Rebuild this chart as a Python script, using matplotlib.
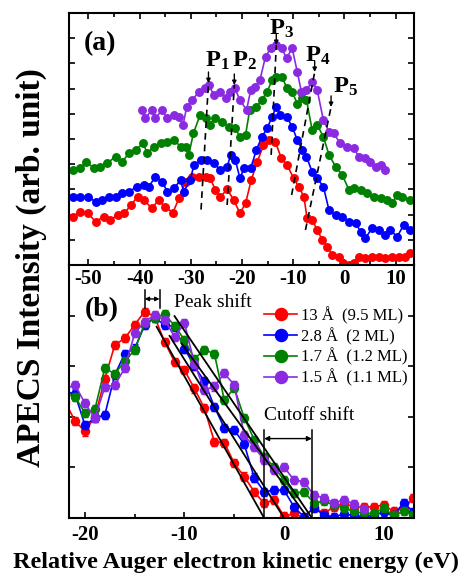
import numpy as np
import matplotlib
matplotlib.use('Agg')
import matplotlib.pyplot as plt
from matplotlib.ticker import MultipleLocator, FixedLocator, NullFormatter
from matplotlib.lines import Line2D

plt.rcParams['font.family'] = ['Liberation Serif', 'DejaVu Serif']
plt.rcParams['mathtext.fontset'] = 'custom'
plt.rcParams['mathtext.rm'] = 'Liberation Serif'
plt.rcParams['mathtext.bf'] = 'Liberation Serif:bold'
plt.rcParams['mathtext.it'] = 'Liberation Serif:italic'
plt.rcParams['axes.unicode_minus'] = False

# ---------------- Panel (a) data ----------------
red_a_x = [-53.0, -51.6, -50.1, -48.6, -47.0, -45.7, -44.3, -43.0, -41.7, -40.4, -39.2, -37.6, -36.3, -35.0,
           -33.5, -32.3, -31.0, -29.7, -28.4, -27.1, -26.2, -25.2, -24.2, -22.9, -21.6,
           -20.4, -19.3, -18.2, -17.0, -15.8, -14.7, -13.5, -12.3, -11.2, -9.9, -8.9, -7.9, -7.3, -6.3,
           -5.3, -4.3, -3.3, -2.4, -1.1, -0.2, 0.9, 1.9, 2.8, 4.1, 5.4, 6.7, 8.0, 9.3, 10.6, 11.9, 12.9]
red_a_y = [1.92, 2.12, 2.05, 1.72, 1.92, 1.79, 1.98, 2.05, 2.38, 2.71, 2.58, 2.25, 2.58, 2.31,
           2.08, 2.65, 3.31, 3.51, 3.51, 3.51, 3.44, 2.98, 2.71, 3.00, 2.58,
           2.05, 2.45, 3.37, 4.10, 4.76, 4.96, 4.90, 4.23, 3.97, 3.44, 3.10, 2.71, 1.87, 1.80,
           1.39, 0.99, 0.73, 0.40, 0.33, 0.07, 0.00, 0.07, 0.33, 0.26, 0.30, 0.33, 0.26, 0.33, 0.30, 0.33, 0.46]

blue_a_x = [-53.0, -51.6, -50.1, -48.6, -47.3, -46.0, -44.7, -43.4, -42.1, -40.5, -39.2, -38.2, -36.9, -35.6,
            -34.6, -33.3, -32.0, -31.4, -30.1, -29.4, -28.1, -26.8, -25.5, -24.2, -22.9, -22.2, -21.3, -20.4,
            -19.6, -18.3, -17.2, -16.1, -15.1, -14.1, -13.3, -12.5, -11.3, -10.2, -9.2, -8.2, -7.4, -6.3,
            -5.3, -4.1, -3.0, -1.7, -0.4, 0.9, 2.2, 3.2, 4.1, 5.4, 6.7, 8.0, 9.0, 10.3, 11.6, 12.9]
blue_a_y = [2.71, 2.71, 2.71, 2.51, 2.58, 2.71, 2.71, 2.84, 2.91, 3.11, 3.17, 3.11, 3.51, 3.31,
            2.91, 3.04, 3.37, 2.91, 3.37, 3.97, 4.17, 4.17, 4.03, 3.77, 3.90, 4.37, 4.17, 3.44,
            3.84, 3.84, 4.56, 5.09, 5.42, 5.89, 6.28, 5.95, 5.89, 5.49, 4.96, 4.56, 4.30, 3.70,
            3.44, 3.11, 2.18, 1.98, 1.92, 1.72, 1.65, 1.32, 1.06, 1.46, 1.39, 1.19, 1.39, 1.12, 1.59, 1.39]

green_a_x = [-53.0, -51.6, -50.4, -49.0, -47.7, -46.4, -44.7, -43.4, -42.1, -40.8, -39.3, -38.5, -37.2, -35.9,
             -34.6, -33.3, -32.0, -31.0, -30.4, -29.5, -28.2, -27.1, -26.3, -25.2, -23.9, -22.6, -21.3, -20.4,
             -19.3, -18.5, -17.2, -16.1, -15.1, -14.1, -13.3, -12.2, -11.2, -10.2, -9.2, -8.2, -7.4, -6.3,
             -5.3, -4.1, -3.0, -1.7, -0.4, 0.9, 1.9, 3.2, 4.5, 5.8, 7.1, 8.4, 9.3, 10.3, 11.3, 12.9]
green_a_y = [3.77, 3.84, 4.10, 3.84, 3.90, 4.03, 4.30, 4.10, 4.43, 4.56, 4.83, 4.43, 4.70, 4.83,
             4.89, 4.96, 4.70, 4.70, 4.37, 5.22, 5.95, 5.82, 5.56, 5.82, 5.69, 5.49, 5.42, 5.09,
             5.16, 6.15, 6.28, 6.55, 6.88, 7.34, 7.47, 7.47, 7.01, 6.88, 6.40, 6.61, 6.55, 5.36,
             5.56, 5.09, 4.37, 3.90, 3.57, 2.98, 3.04, 2.98, 2.84, 2.71, 2.65, 2.58, 2.45, 2.78, 2.71, 2.58]

purple_a_x = [-39.5, -38.9, -37.6, -36.9, -35.6, -34.6, -33.3, -32.3, -31.5, -30.8, -29.7, -28.4, -27.3, -26.5,
              -25.5, -24.2, -23.2, -22.4, -21.4, -20.4, -19.1, -18.3, -17.4, -16.5, -15.4, -14.4, -13.3, -12.2,
              -11.3, -10.2, -9.2, -8.4, -7.4, -6.3, -5.3, -4.1, -3.0, -2.1, -0.8, 0.6, 1.9, 2.8, 4.1, 5.1,
              6.1, 7.1, 8.0]
purple_a_y = [6.15, 5.82, 6.15, 5.82, 6.15, 5.82, 5.95, 5.89, 5.56, 6.28, 6.55, 6.88, 7.01, 7.14,
              6.75, 6.88, 6.61, 6.88, 7.01, 6.55, 6.15, 6.94, 7.08, 7.34, 8.27, 8.60, 8.73, 8.60,
              8.20, 8.60, 7.67, 6.88, 6.94, 7.28, 6.94, 5.75, 5.29, 5.22, 4.83, 4.70, 4.63, 4.30, 4.23, 4.10,
              3.90, 3.97, 3.77]

# peak guide lines (bottom, top) and labels
peak_names = ['1', '2', '3', '4', '5']
peak_line_x = [[-28.0, -26.55], [-22.9, -21.5], [-14.3, -13.3], [-10.3, -5.8], [-7.6, -2.6]]
peak_line_y = [[2.20, 7.22], [2.38, 7.14], [4.37, 8.73], [2.78, 7.66], [1.39, 6.27]]
peak_label_x = [-27.2, -21.9, -14.8, -7.6, -2.3]
peak_label_y = [7.86, 7.86, 9.13, 8.06, 6.83]

# ---------------- Panel (b) data ----------------
b_x = [-22, -21, -20, -19, -18, -17, -16, -15, -14, -13, -12, -11, -10, -9, -8, -7, -6, -5, -4, -3, -2, -1,
       0, 1, 2, 3, 4, 5, 6, 7, 8, 9, 10, 11, 12, 13]
red_b = [2.30, 1.92, 1.71, 2.00, 2.75, 3.42, 3.55, 3.82, 4.08, 3.98, 3.48, 3.09, 2.92, 2.56, 2.17, 1.51, 1.49,
         1.08, 0.82, 0.52, 0.29, 0.36, 0.03, 0.09, 0.00, 0.22, 0.09, 0.22, 0.29, 0.22, 0.22, 0.22, 0.26, 0.13,
         0.19, 0.39]
blue_b = [2.50, 2.45, 1.84, 1.97, 2.04, 2.83, 3.25, 3.35, 3.81, 3.95, 3.82, 3.78, 3.35, 3.00, 2.70, 2.20, 1.78,
          1.74, 1.46, 0.80, 0.52, 0.55, 0.55, 0.22, 0.02, 0.20, 0.06, 0.02, 0.08, 0.05, 0.03, 0.05, 0.12, 0.05,
          0.30, 0.12]
green_b = [2.45, 2.40, 2.07, 2.15, 2.96, 2.85, 3.10, 3.32, 3.85, 3.95, 4.03, 3.80, 3.52, 3.15, 3.32, 3.25, 2.33,
           2.57, 1.98, 1.55, 1.21, 1.01, 0.75, 0.49, 0.52, 0.30, 0.33, 0.26, 0.20, 0.13, 0.09, 0.09, 0.19, 0.05,
           0.13, 0.05]
purple_b_x = [-22, -21, -20, -19, -18, -17, -16, -15, -14, -13, -12, -11, -10, -9, -8, -7, -6, -5, -4, -3, -2,
              -1, 0, 1, 2, 3, 4, 5, 6, 7, 8]
purple_b = [2.55, 2.63, 2.27, 1.97, 2.59, 2.63, 2.96, 3.65, 3.88, 4.01, 3.92, 3.58, 3.85, 3.05, 2.53, 2.60, 2.86,
            2.63, 1.64, 1.40, 1.15, 0.95, 1.01, 0.75, 0.72, 0.45, 0.40, 0.30, 0.36, 0.28, 0.18]
b_err = 0.08

fit_x = [[-12.8, -2.0], [-11.5, 0.0], [-10.3, 2.4], [-11.0, 2.8]]
fit_y = [[3.78, 0.0], [3.60, 0.0], [3.45, 0.0], [3.99, 0.0]]

legend_labels = ['13 Å  (9.5 ML)', '2.8 Å  (2 ML)', '1.7 Å  (1.2 ML)', '1.5 Å  (1.1 ML)']
colors = ['#ff0000', '#0000ff', '#008000', '#8a2be2']

# ---------------- Figure ----------------
fig = plt.figure(figsize=(4.59, 5.75), dpi=100)
ax1 = fig.add_axes([0.1503, 0.5391, 0.7516, 0.4383])
ax2 = fig.add_axes([0.1503, 0.0991, 0.7516, 0.4400])
ax2.patch.set_visible(False)

for xs, ys, c in zip([red_a_x, blue_a_x, green_a_x, purple_a_x],
                     [red_a_y, blue_a_y, green_a_y, purple_a_y], colors):
    ax1.plot(xs, ys, '-o', color=c, ms=5.4, lw=1.2, mec=c)

for name, lx, ly, tx, ty in zip(peak_names, peak_line_x, peak_line_y, peak_label_x, peak_label_y):
    ax1.plot(lx, ly, color='k', lw=1.2, ls=(0, (4, 3)), zorder=5)
    ax1.annotate('', xy=(lx[1], ly[1]), xytext=(lx[1], ly[1] + 0.44),
                 arrowprops=dict(arrowstyle='-|>', color='k', lw=1.0, mutation_scale=6,
                                 shrinkA=0, shrinkB=0), zorder=5)
    ax1.text(tx, ty, r'$\mathbf{P}_{\mathbf{%s}}$' % name, fontsize=17.5, ha='left', va='baseline')

ax1.text(0.09, 0.877, '(a)', transform=ax1.transAxes, fontsize=20, fontweight='bold',
         ha='center', va='center')

ax1.set_xlim(-53.8, 13.6)
ax1.set_ylim(0, 10)
ax1.xaxis.set_major_locator(FixedLocator([-50, -40, -30, -20, -10, 0, 10]))
ax1.xaxis.set_minor_locator(FixedLocator([-45, -35, -25, -15, -5, 5]))
ax1.yaxis.set_major_locator(FixedLocator([1, 2, 3, 4, 5, 6, 7, 8, 9]))
ax1.yaxis.set_major_formatter(NullFormatter())
ax1.tick_params(which='both', direction='in', top=True, right=True, width=1.2)
ax1.tick_params(which='major', length=4.5, labelsize=15, pad=3)
ax1.tick_params(which='minor', length=3)

# panel b
handles = []
for xs, ys, c in zip([b_x, b_x, b_x, purple_b_x], [red_b, blue_b, green_b, purple_b], colors):
    ax2.errorbar(xs, ys, yerr=b_err, fmt='none', ecolor=c, elinewidth=1.0, capsize=2.5, capthick=1.0)
    h, = ax2.plot(xs, ys, '-o', color=c, ms=5.8, lw=1.2, mec=c)
    handles.append(h)

for fx, fy in zip(fit_x, fit_y):
    ax2.plot(fx, fy, color='k', lw=1.3, zorder=6)

# peak shift bracket
ax2.plot([-14.0, -14.0], [4.15, 4.50], color='k', lw=1.1)
ax2.plot([-12.5, -12.5], [4.15, 4.50], color='k', lw=1.1)
ax2.annotate('', xy=(-14.0, 4.33), xytext=(-12.5, 4.33),
             arrowprops=dict(arrowstyle='<|-|>', color='k', lw=1.0, mutation_scale=6, shrinkA=0, shrinkB=0))
ax2.text(-11.1, 4.26, 'Peak shift', fontsize=14, ha='left', va='center')

# cutoff shift bracket
ax2.plot([-2.0, -2.0], [0, 1.74], color='k', lw=1.1, zorder=7)
ax2.plot([2.8, 2.8], [0, 1.74], color='k', lw=1.1, zorder=7)
ax2.annotate('', xy=(-2.0, 1.57), xytext=(2.8, 1.57),
             arrowprops=dict(arrowstyle='<|-|>', color='k', lw=1.0, mutation_scale=7, shrinkA=0, shrinkB=0))
ax2.text(2.5, 2.03, 'Cutoff shift', fontsize=14, ha='center', va='center')

ax2.text(0.096, 0.822, '(b)', transform=ax2.transAxes, fontsize=20, fontweight='bold',
         ha='center', va='center')

ax2.legend(handles, legend_labels, loc='upper left', bbox_to_anchor=(0.565, 0.835), frameon=False,
           fontsize=12, handlelength=2.0, handletextpad=0.25, labelspacing=0.2, borderpad=0,
           borderaxespad=0, markerscale=1.5)

ax2.set_xlim(-21.6, 13.05)
ax2.set_ylim(0, 5)
ax2.xaxis.set_major_locator(FixedLocator([-20, -10, 0, 10]))
ax2.xaxis.set_minor_locator(FixedLocator([-15, -5, 5]))
ax2.yaxis.set_major_locator(FixedLocator([1, 2, 3, 4]))
ax2.yaxis.set_major_formatter(NullFormatter())
ax2.tick_params(which='both', direction='in', top=False, right=True, width=1.2)
ax2.tick_params(which='major', length=4.5, labelsize=15, pad=5)
ax2.tick_params(which='minor', length=3)
ax2.spines['top'].set_visible(False)

for ax in (ax1, ax2):
    for s in ax.spines.values():
        s.set_linewidth(1.5)
    for t in ax.get_xticklabels():
        t.set_fontweight('bold')

fig.text(0.068, 0.535, 'APECS Intensity (arb. unit)', rotation=90, fontsize=24, fontweight='bold',
         ha='center', va='center')
fig.text(0.515, 0.022, 'Relative Auger electron kinetic energy (eV)', fontsize=17.5, fontweight='bold',
         ha='center', va='center')

fig.savefig('out.png', dpi=100)
